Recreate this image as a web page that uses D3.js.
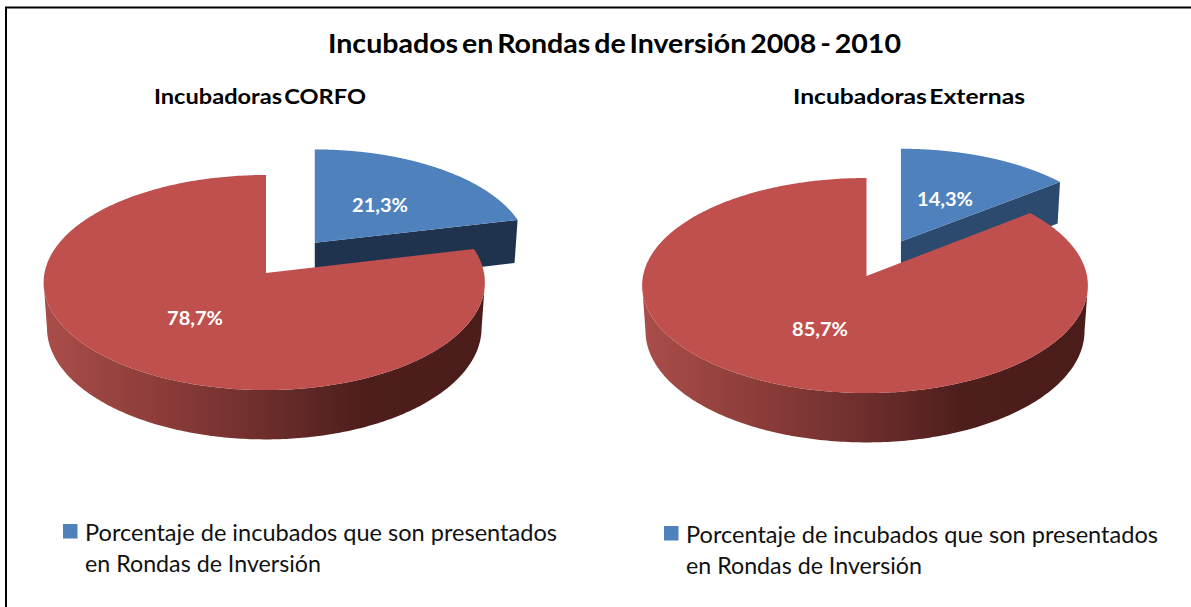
<!DOCTYPE html>
<html><head><meta charset="utf-8">
<style>html,body{margin:0;padding:0;background:#fff}svg{display:block}text{font-family:Lato,"Open Sans",sans-serif}</style>
<script src="https://cdn.jsdelivr.net/npm/d3@7/dist/d3.min.js"></script>
</head><body><svg id="c" width="1191" height="607"></svg>
<script>
const chartTitle = "Incubados en Rondas de Inversión 2008 - 2010";
const pieNames = ["Incubadoras CORFO", "Incubadoras Externas"];
const categories = ["Porcentaje de incubados que son presentados", "en Rondas de Inversión"];
const corfoValues = [21.3, 78.7];
const externasValues = [14.3, 85.7];
const tickLabels = [["21,3%", "78,7%"], ["14,3%", "85,7%"]];

const svg = d3.select("#c");
const defs = svg.append("defs");
const BLUE = "#4f81bd", RED = "#c0504d";
const K = 106.7, P = 0.0884, E = 0.37, D = 45, SHRINK = 0.985;

svg.append("path").attr("d", "M6,607V7.5H1191").attr("fill", "none").attr("stroke", "#000").attr("stroke-width", 2);

function drawPie(values, idx, cfg) {
  const pie = d3.pie().sort(null).startAngle(0).endAngle(2 * Math.PI);
  const arcs = pie(values);
  const g = svg.append("g");
  const sx = d3.scaleLinear().domain([-1, 0, 1]).range([cfg.cx - cfg.wl, cfg.cx, cfg.cx + cfg.wr]);
  const sy = d3.scaleLinear().domain([0, 1]).range([cfg.cy, cfg.cy + K]);
  const persp = v => 1 / (1 - P * v);
  // projective map of a point on a wedge: (ul, vl) relative to the wedge's own apex
  const proj = (off, ul, vl, depth) => {
    const v = off[1] + vl, s = persp(v);
    const f = depth ? SHRINK : 1;
    return [sx(off[0] * persp(off[1]) + ul * s * f), sy(v * s) + (depth ? D * s : 0)];
  };
  const line = d3.line();
  const sample = (a0, a1) => d3.range(0, 361).map(i => a0 + (a1 - a0) * i / 360);
  const offOf = d => {
    if (d.index !== 0) return [0, 0];
    const m = (d.startAngle + d.endAngle) / 2;
    return [E * Math.sin(m), -E * Math.cos(m)];
  };
  const gid = "side" + idx;
  const grad = defs.append("linearGradient").attr("id", gid).attr("gradientUnits", "userSpaceOnUse")
    .attr("x1", cfg.cx - cfg.wl).attr("x2", cfg.cx + cfg.wr).attr("y1", 0).attr("y2", 0);
  [[0, "#aa4d4a"], [0.3, "#873a37"], [0.55, "#662b29"], [0.72, "#4e1e1c"], [1, "#4a1c1a"]]
    .forEach(s => grad.append("stop").attr("offset", s[0]).attr("stop-color", s[1]));

  arcs.forEach(d => {
    const off = offOf(d);
    const angles = sample(d.startAngle, d.endAngle);
    const isBlue = d.index === 0;
    if (isBlue) {
      // cut face that looks toward the viewer
      const e = d.endAngle, u = Math.sin(e), v = -Math.cos(e);
      const face = [proj(off, 0, 0, false), proj(off, u, v, false), proj(off, u, v, true), proj(off, 0, 0, true)];
      g.append("path").attr("d", line(face) + "Z").attr("fill", cfg.cut);
    } else {
      // the front of the rim, between the two silhouette extremes
      const front = angles.filter(a => Math.cos(a) <= -P);
      const strip = front.map(a => proj(off, Math.sin(a), -Math.cos(a), false))
        .concat(front.slice().reverse().map(a => proj(off, Math.sin(a), -Math.cos(a), true)));
      g.append("path").attr("d", line(strip) + "Z").attr("fill", `url(#${gid})`);
    }
    // top face
    const top = [proj(off, 0, 0, false)].concat(angles.map(a => proj(off, Math.sin(a), -Math.cos(a), false)));
    g.append("path").attr("d", line(top) + "Z").attr("fill", isBlue ? BLUE : RED);
  });

  tickLabels[idx].forEach((t, i) => {
    g.append("text").attr("x", cfg.labels[i][0]).attr("y", cfg.labels[i][1]).attr("text-anchor", "middle")
      .attr("fill", "#fff").attr("font-size", 19).attr("font-weight", 700)
      .attr("textLength", 56).attr("lengthAdjust", "spacingAndGlyphs").text(t);
  });

  svg.append("text").attr("x", cfg.nameX).attr("y", 104).attr("font-size", 20.5).attr("font-weight", 700)
    .attr("word-spacing", -3).attr("fill", "#000").attr("textLength", cfg.nameW).attr("lengthAdjust", "spacingAndGlyphs").text(pieNames[idx]);

  svg.append("rect").attr("x", cfg.lx).attr("y", cfg.ly).attr("width", 14.5).attr("height", 14.5).attr("fill", BLUE);
  categories.forEach((t, i) => {
    svg.append("text").attr("x", cfg.lx + 22).attr("y", cfg.ly + 17 + i * 31).attr("font-size", 22.5).attr("fill", "#111")
      .attr("textLength", i ? 236 : 472).attr("lengthAdjust", "spacingAndGlyphs").text(t);
  });
}

svg.append("text").attr("x", 328).attr("y", 53).attr("font-size", 27.5).attr("font-weight", 700).attr("fill", "#000")
  .attr("word-spacing", -3).attr("textLength", 573).attr("lengthAdjust", "spacingAndGlyphs").text(chartTitle);

drawPie(corfoValues, 0, { cx: 266, cy: 273, wl: 221.5, wr: 218, cut: "#1f334f", labels: [[380, 212], [195, 325]], nameX: 154, nameW: 212, lx: 63, ly: 524 });
drawPie(externasValues, 1, { cx: 866.5, cy: 276, wl: 223.5, wr: 220.5, cut: "#2c4a6e", labels: [[945, 206], [820, 336]], nameX: 793, nameW: 232, lx: 664, ly: 526 });
</script></body></html>
